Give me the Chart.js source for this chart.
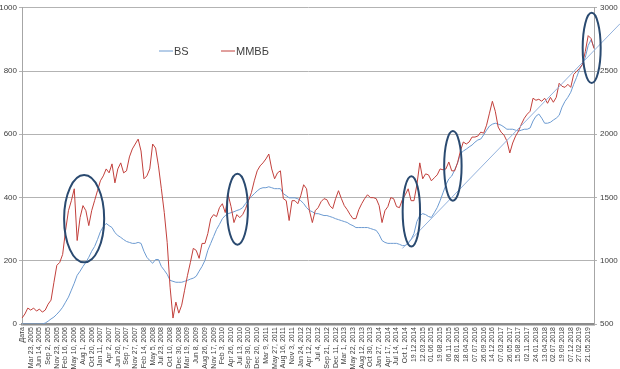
<!DOCTYPE html>
<html>
<head>
<meta charset="utf-8">
<script src="https://cdn.jsdelivr.net/npm/chart.js@4.4.1/dist/chart.umd.min.js"></script>
<style>
  html, body { margin: 0; padding: 0; background: #fff; }
</style>
</head>
<body>
<canvas id="chart" width="620" height="369"></canvas>
<script>
// ── data ─────────────────────────────────────────────────────────────────
// one tick label every 3 points
const tickLabels = ['Дата', 'Mar 23, 2005', 'Jun 14, 2005', 'Sep 2, 2005', 'Nov 23, 2005', 'Feb 16, 2006', 'May 10, 2006',
  'Aug 1, 2006', 'Oct 20, 2006', 'Jan 11, 2007', 'Apr 2, 2007', 'Jun 20, 2007', 'Sep 7, 2007', 'Nov 27, 2007',
  'Feb 14, 2008', 'May 5, 2008', 'Jul 23, 2008', 'Oct 10, 2008', 'Dec 30, 2008', 'Mar 19, 2009', 'Jun 8, 2009',
  'Aug 26, 2009', 'Nov 17, 2009', 'Feb 3, 2010', 'Apr 26, 2010', 'Jul 13, 2010', 'Sep 30, 2010', 'Dec 20, 2010',
  'Mar 9, 2011', 'May 27, 2011', 'Aug 16, 2011', 'Nov 3, 2011', 'Jan 24, 2012', 'Apr 12, 2012', 'Jul 4, 2012',
  'Sep 21, 2012', 'Dec 11, 2012', 'Mar 1, 2013', 'May 22, 2013', 'Aug 12, 2013', 'Oct 30, 2013', 'Jan 27, 2014',
  'Apr 17, 2014', 'Jul 14, 2014', 'Oct 1, 2014', '19.12.2014', '12.03.2015', '01.06.2015', '19.08.2015',
  '06.11.2015', '28.01.2016', '18.04.2016', '07.07.2016', '26.09.2016', '14.12.2016', '07.03.2017', '26.05.2017',
  '15.08.2017', '02.11.2017', '24.01.2018', '13.04.2018', '02.07.2018', '19.09.2018', '07.12.2018', '27.02.2019',
  '21.05.2019'];

// BS, left axis (0..1000)
const bsValues = [
  0, 0, 0, 0, 0, 0, 0, 0, 3, 9,
  16, 22, 31, 41, 53, 69, 85, 107, 129, 154,
  167, 182, 195, 211, 230, 245, 267, 292, 308, 318,
  311, 305, 289, 280, 274, 267, 261, 258, 255, 255,
  258, 255, 230, 211, 201, 192, 204, 204, 182, 170,
  157, 138, 135, 132, 132, 132, 135, 138, 142, 145,
  151, 167, 182, 201, 233, 255, 277, 299, 315, 333,
  343, 349, 352, 355, 359, 362, 368, 381, 393, 403,
  412, 421, 428, 431, 431, 434, 431, 428, 428, 428,
  412, 406, 399, 399, 399, 396, 390, 381, 368, 359,
  355, 349, 349, 346, 343, 343, 340, 337, 333, 330,
  327, 324, 321, 315, 311, 305, 305, 305, 305, 305,
  302, 299, 296, 283, 264, 258, 255, 255, 255, 255,
  252, 248, 248, 255, 267, 286, 324, 343, 349, 346,
  340, 337, 352, 368, 390, 415, 440, 459, 468, 487,
  509, 538, 547, 553, 560, 566, 575, 582, 585, 598,
  613, 626, 632, 635, 632, 629, 623, 616, 616, 616,
  613, 610, 613, 616, 616, 620, 642, 657, 664, 651,
  635, 635, 638, 645, 651, 660, 686, 704, 717, 733,
  758, 780, 805, 821, 843, 881, 899, 874];

// ММВБ, right axis (500..3000)
const micexValues = [
  547, 579, 626, 610, 626, 602, 618, 594, 610, 657,
  689, 830, 964, 987, 1050, 1239, 1396, 1475, 1569, 1160,
  1341, 1436, 1396, 1278, 1396, 1475, 1554, 1632, 1671, 1726,
  1695, 1766, 1616, 1726, 1774, 1695, 1711, 1821, 1884, 1923,
  1962, 1868, 1648, 1671, 1726, 1923, 1891, 1750, 1569, 1381,
  1145, 791, 547, 673, 586, 649, 767, 885, 987, 1098,
  1082, 1019, 1137, 1137, 1215, 1333, 1365, 1349, 1420, 1451,
  1381, 1522, 1428, 1302, 1365, 1341, 1365, 1412, 1475, 1538,
  1632, 1711, 1750, 1774, 1805, 1844, 1726, 1648, 1695, 1711,
  1491, 1475, 1318, 1475, 1475, 1451, 1514, 1601, 1569, 1396,
  1302, 1396, 1420, 1467, 1491, 1483, 1436, 1412, 1491, 1554,
  1491, 1436, 1404, 1365, 1333, 1333, 1404, 1451, 1491, 1522,
  1499, 1499, 1491, 1436, 1302, 1396, 1428, 1499, 1491, 1428,
  1420, 1483, 1522, 1569, 1475, 1475, 1601, 1774, 1648, 1687,
  1679, 1632, 1656, 1679, 1726, 1719, 1726, 1781, 1711, 1711,
  1774, 1868, 1939, 1923, 1939, 1978, 1978, 1986, 2017, 2009,
  2072, 2167, 2261, 2182, 2057, 2017, 1994, 1947, 1852, 1931,
  1986, 2025, 2080, 2127, 2159, 2182, 2285, 2269, 2277, 2261,
  2285, 2245, 2292, 2253, 2292, 2403, 2379, 2371, 2395, 2371,
  2473, 2497, 2521, 2552, 2654, 2780, 2757, 2678];

const leftTicks  = { min: 0,   max: 1000, step: 200 };
const rightTicks = { min: 500, max: 3000, step: 500 };

// hand-drawn marks, in (point index, BS value) units
const trendLine = [[131, 239], [206, 950]];
const ellipses = [
  { i: 21.4,  v: 333, di: 6.9, dv: 138 },
  { i: 74.2,  v: 363, di: 3.6, dv: 112 },
  { i: 134.1, v: 356, di: 3.0, dv: 111 },
  { i: 148.4, v: 500, di: 3.0, dv: 110 },
  { i: 196.2, v: 873, di: 3.1, dv: 111 },
];

// category axis: a named tick every third point
const categories = tickLabels.flatMap(t => [t, '', '']);

const FONT = '"Liberation Sans", Arial, sans-serif';
const GRID = '#b3b3b3';
const TXT  = '#404040';

// ── plugins ───────────────────────────────────────────────────────────────
const marksPlugin = {
  id: 'marks',
  afterDatasetsDraw(chart) {
    const { ctx, scales: { x, y } } = chart;
    ctx.save();
    ctx.strokeStyle = '#92b1dc';
    ctx.lineWidth = 1;
    ctx.beginPath();
    ctx.moveTo(x.getPixelForValue(trendLine[0][0]), y.getPixelForValue(trendLine[0][1]));
    ctx.lineTo(x.getPixelForValue(trendLine[1][0]), y.getPixelForValue(trendLine[1][1]));
    ctx.stroke();

    ctx.strokeStyle = '#2a4a70';
    ctx.lineWidth = 2;
    ellipses.forEach(e => {
      const cx = x.getPixelForValue(e.i), cy = y.getPixelForValue(e.v);
      const rx = Math.abs(x.getPixelForValue(e.i + e.di) - cx);
      const ry = Math.abs(y.getPixelForValue(e.v + e.dv) - cy);
      ctx.beginPath();
      ctx.ellipse(cx, cy, rx, ry, 0, 0, Math.PI * 2);
      ctx.stroke();
    });
    ctx.restore();
  }
};

const legendPlugin = {
  id: 'inlineLegend',
  afterDraw(chart) {
    const ctx = chart.ctx;
    const spots = [159, 221];
    ctx.save();
    ctx.font = '11px ' + FONT;
    ctx.textBaseline = 'middle';
    chart.data.datasets.forEach((ds, k) => {
      const lx = spots[k], ly = 51;
      ctx.strokeStyle = ds.borderColor;
      ctx.lineWidth = 1;
      ctx.beginPath(); ctx.moveTo(lx, ly); ctx.lineTo(lx + 14, ly); ctx.stroke();
      ctx.fillStyle = TXT;
      ctx.fillText(ds.label, lx + 15, ly + 1);
    });
    ctx.restore();
  }
};

// ── chart ─────────────────────────────────────────────────────────────────
new Chart(document.getElementById('chart'), {
  type: 'line',
  data: {
    labels: categories,
    datasets: [
      { label: 'BS', data: bsValues, yAxisID: 'y', borderColor: '#6d9bd1', borderWidth: 1, pointRadius: 0, order: 1 },
      { label: 'ММВБ', data: micexValues, yAxisID: 'y2', borderColor: '#c2403c', borderWidth: 1, pointRadius: 0, order: 0 },
    ]
  },
  options: {
    responsive: false,
    animation: false,
    devicePixelRatio: 1,
    layout: { padding: { top: 6, left: 0, right: 0, bottom: 0 } },
    plugins: { legend: { display: false }, tooltip: { enabled: false } },
    elements: { line: { tension: 0 } },
    scales: {
      x: {
        offset: false,
        grid: { display: false, drawTicks: false },
        border: { display: true, color: '#8c8c8c', width: 2.5 },
        ticks: {
          autoSkip: false, maxRotation: 90, minRotation: 90, padding: 3,
          color: TXT, font: { size: 7, family: FONT },
          callback: function (v) { const l = this.getLabelForValue(v); return l === '' ? null : l; }
        },
        afterFit: s => { s.height = 45; }
      },
      y: {
        position: 'left',
        min: leftTicks.min, max: leftTicks.max,
        grid: { color: GRID, lineWidth: 1, tickLength: 3 },
        border: { color: '#a6a6a6', width: 1 },
        ticks: { stepSize: leftTicks.step, padding: 2, color: TXT, font: { size: 8, family: FONT }, callback: v => String(v) },
        afterFit: s => { s.width = 22; }
      },
      y2: {
        position: 'right',
        min: rightTicks.min, max: rightTicks.max,
        grid: { drawOnChartArea: false, color: GRID, tickLength: 3 },
        border: { color: '#a6a6a6', width: 1 },
        ticks: { stepSize: rightTicks.step, padding: 3, color: TXT, font: { size: 8, family: FONT }, callback: v => String(v) },
        afterFit: s => { s.width = 26; }
      }
    }
  },
  plugins: [marksPlugin, legendPlugin]
});
</script>
</body>
</html>
